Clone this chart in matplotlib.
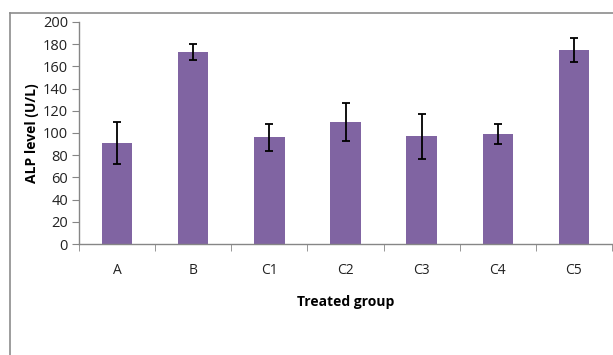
import numpy as np
import matplotlib.pyplot as plt
from matplotlib.lines import Line2D

groups = ['A', 'B', 'C1', 'C2', 'C3', 'C4', 'C5']
alp_mean = [91, 173, 96, 110, 97, 99, 175]
alp_err = [19, 7, 12, 17, 20, 9, 11]

W, H = 613, 355
fig = plt.figure(figsize=(W / 100, H / 100), dpi=100)
plt.rcParams['font.family'] = ['Open Sans', 'DejaVu Sans']

# chart area frame (clipped at right and bottom like the original)
fig.add_artist(Line2D([9.5 / W, 9.5 / W], [0, 1 - 12.5 / H], color='#8c8c8c', lw=1.2))
fig.add_artist(Line2D([9.5 / W, 1], [1 - 12.5 / H, 1 - 12.5 / H], color='#8c8c8c', lw=1.2))

ax = fig.add_axes([79 / W, 111 / H, 533 / W, 222 / H])
x = np.arange(len(groups))
ax.bar(x, alp_mean, width=0.4, color='#8064A2', zorder=2)
ax.errorbar(x, alp_mean, yerr=alp_err, fmt='none', ecolor='black',
            elinewidth=1.3, capsize=3, capthick=1.3, zorder=3)

ax.set_xlim(-0.5, len(groups) - 0.5)
ax.set_ylim(0, 200)
ax.set_yticks(np.arange(0, 201, 20))
ax.set_xticks(x)
ax.set_xticklabels(groups)
ax.set_xticks(np.arange(-0.5, len(groups), 1), minor=True)

for s in ['top', 'right']:
    ax.spines[s].set_visible(False)
for s in ['left', 'bottom']:
    ax.spines[s].set_color('#868686')
    ax.spines[s].set_linewidth(1)

ax.tick_params(axis='x', which='major', length=0, pad=14, labelsize=10, colors='#222222')
ax.tick_params(axis='x', which='minor', length=5, color='#868686', direction='out')
ax.tick_params(axis='y', length=5, color='#868686', direction='out', labelsize=10.5,
               labelcolor='#222222', pad=3)

ax.set_ylabel('ALP level (U/L)', fontsize=10, fontweight='bold', labelpad=3)
ax.set_xlabel('Treated group', fontsize=10, fontweight='bold', labelpad=12)

fig.savefig('out.png', dpi=100)
